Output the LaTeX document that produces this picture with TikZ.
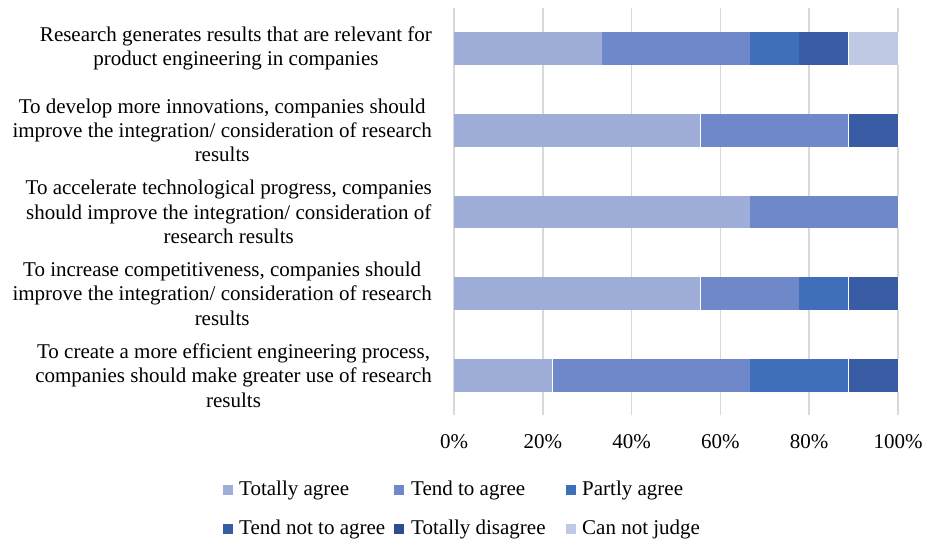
\documentclass[tikz,border=0pt]{standalone}
\usepackage{fontspec}
\setmainfont{Liberation Serif}
\definecolor{cTA}{HTML}{9FAED8}
\definecolor{cTT}{HTML}{6E88C9}
\definecolor{cPA}{HTML}{3F6EBA}
\definecolor{cTN}{HTML}{385DA5}
\definecolor{cTD}{HTML}{2E4D8C}
\definecolor{cCJ}{HTML}{BFC9E4}
\definecolor{gridc}{HTML}{D9D9D9}
\newcommand\mysegm[4]{\fill[#4] ({454+#2*49.3333},{#1-16.25}) rectangle ({454+(#2+#3)*49.3333},{#1+16.25});
  \draw[sep] ({454+(#2+#3)*49.3333},{#1-16.25}) -- ({454+(#2+#3)*49.3333},{#1+16.25});}
\begin{document}
\begin{tikzpicture}[x=1pt,y=-1pt,
  txt/.style={font=\fontsize{21}{24.4}\selectfont,inner sep=0pt},
  lbl/.style={txt,anchor=east,align=center},
  tick/.style={txt},
  grid/.style={draw=gridc,line width=1.6pt},
  sep/.style={draw=white,line width=0.5pt},
  key/.style={inner sep=0pt,minimum size=10pt}]
\useasboundingbox[fill=white] (0,0) rectangle (928,542);
% grid
\foreach \i in {0,...,5} {
  \draw[grid] ({454+88.8*\i},8) -- ({454+88.8*\i},415);
}
\node[tick] (t0) at (454,442) {0\%};
\node[tick] (t1) at (542.8,442) {20\%};
\node[tick] (t2) at (631.6,442) {40\%};
\node[tick] (t3) at (720.4,442) {60\%};
\node[tick] (t4) at (809.2,442) {80\%};
\node[tick] (t5) at (898,442) {100\%};
% bars
\mysegm{48.5}{0}{3}{cTA}\mysegm{48.5}{3}{3}{cTT}\mysegm{48.5}{6}{1}{cPA}\mysegm{48.5}{7}{1}{cTN}\mysegm{48.5}{8}{1}{cCJ}
\mysegm{130.3}{0}{5}{cTA}\mysegm{130.3}{5}{3}{cTT}\mysegm{130.3}{8}{1}{cTN}
\mysegm{212}{0}{6}{cTA}\mysegm{212}{6}{3}{cTT}
\mysegm{293.7}{0}{5}{cTA}\mysegm{293.7}{5}{2}{cTT}\mysegm{293.7}{7}{1}{cPA}\mysegm{293.7}{8}{1}{cTN}
\mysegm{375.5}{0}{2}{cTA}\mysegm{375.5}{2}{4}{cTT}\mysegm{375.5}{6}{2}{cPA}\mysegm{375.5}{8}{1}{cTN}
% category labels
\node[lbl] (l1) at (432,48.5) {Research generates results that are relevant for\\product engineering in companies};
\node[lbl] (l2) at (432,130.3) {To develop more innovations, companies should\\improve the integration/ consideration of research\\results};
\node[lbl] (l3) at (432,212) {To accelerate technological progress, companies\\should improve the integration/ consideration of\\research results};
\node[lbl] (l4) at (432,293.7) {To increase competitiveness, companies should\\improve the integration/ consideration of research\\results};
\node[lbl] (l5) at (432,375.5) {To create a more efficient engineering process,\\companies should make greater use of research\\results};
% legend
\node[key,fill=cTA] (k1) at (227.7,490) {};
\node[txt,anchor=west] (n1) at (239,490) {Totally agree};
\node[key,fill=cTT] (k2) at (399,490) {};
\node[txt,anchor=west] (n2) at (411,490) {Tend to agree};
\node[key,fill=cPA] (k3) at (570.7,490) {};
\node[txt,anchor=west] (n3) at (582,490) {Partly agree};
\node[key,fill=cTN] (k4) at (227.7,529) {};
\node[txt,anchor=west] (n4) at (239,529) {Tend not to agree};
\node[key,fill=cTD] (k5) at (399,529) {};
\node[txt,anchor=west] (n5) at (411,529) {Totally disagree};
\node[key,fill=cCJ] (k6) at (570.7,529) {};
\node[txt,anchor=west] (n6) at (582,529) {Can not judge};
\end{tikzpicture}
\end{document}
